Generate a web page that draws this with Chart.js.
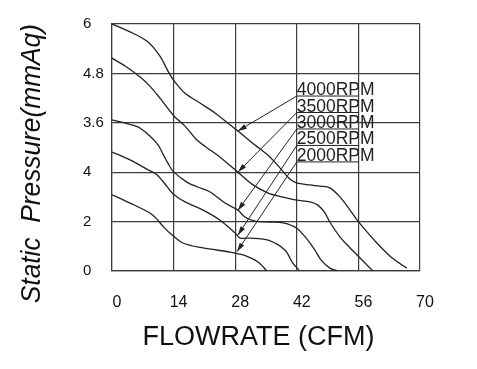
<!DOCTYPE html>
<html>
<head>
<meta charset="utf-8">
<script src="https://cdn.jsdelivr.net/npm/chart.js@4/dist/chart.umd.min.js"></script>
<style>
  body { margin: 0; background: #fff; }
  #wrap { width: 477px; height: 369px; }
</style>
</head>
<body>
<div id="wrap"><canvas id="myCanvas"></canvas></div>
<script>
// axis tick labels (the y labels on the original sheet are printed this way)
const xTickLabels = ['0', '14', '28', '42', '56', '70'];
const yTickLabels = ['0', '2', '4', '3.6', '4.8', '6'];

const rpmLabels = ['4000RPM', '3500RPM', '3000RPM', '2500RPM', '2000RPM'];

// flow (CFM) / static pressure
const flow4000 = [0, 4.1, 8.0, 10.9, 12.7, 14.1, 16.6, 20.0, 23.4, 28.6, 32.5, 35.9, 38.6, 40.5, 42.0, 45.0, 47.3, 49.5, 51.8, 54.1, 55.9, 58.2, 60.2, 63.6, 67.0];
const pres4000 = [6.0, 5.81, 5.58, 5.22, 4.86, 4.62, 4.32, 4.08, 3.84, 3.40, 3.06, 2.77, 2.45, 2.23, 2.14, 2.09, 2.06, 2.02, 1.80, 1.48, 1.21, 0.92, 0.68, 0.32, 0.07];

const flow3500 = [0, 3.0, 6.4, 8.6, 10.9, 12.7, 14.1, 16.6, 19.3, 22.3, 24.5, 28.6, 31.8, 35.5, 38.6, 42.0, 45.0, 46.8, 48.4, 49.5, 51.8, 54.1, 55.7, 59.3];
const pres3500 = [5.17, 4.98, 4.71, 4.49, 4.20, 3.95, 3.76, 3.52, 3.18, 2.94, 2.77, 2.40, 2.11, 1.89, 1.80, 1.72, 1.68, 1.60, 1.41, 1.19, 0.83, 0.56, 0.39, 0];

const flow3000 = [0, 3.0, 5.9, 8.6, 10.5, 11.6, 12.7, 13.9, 17.0, 19.5, 22.3, 25.7, 28.6, 30.2, 32.5, 35.9, 38.9, 42.0, 44.5, 46.1, 47.5, 49.5, 51.4];
const pres3000 = [3.67, 3.59, 3.50, 3.28, 3.06, 2.84, 2.62, 2.42, 2.16, 2.04, 1.92, 1.65, 1.48, 1.31, 1.21, 1.19, 1.17, 1.04, 0.75, 0.51, 0.27, 0.07, 0];

const flow2500 = [0, 4.1, 8.0, 10.2, 12.0, 13.9, 16.6, 20.7, 24.5, 28.0, 29.1, 31.4, 35.5, 39.3, 41.1, 42.7];
const pres2500 = [2.89, 2.70, 2.47, 2.34, 2.12, 1.87, 1.68, 1.48, 1.24, 0.92, 0.80, 0.80, 0.75, 0.51, 0.19, 0];

const flow2000 = [0, 4.1, 8.6, 10.2, 11.8, 13.2, 16.1, 20.7, 26.8, 29.8, 33.2, 35.2];
const pres2000 = [1.85, 1.65, 1.41, 1.26, 1.06, 0.92, 0.68, 0.56, 0.46, 0.39, 0.22, 0];

// callout labels: text sits at flow 42, underline to flow 56, arrow to the curve
const labelFlowStart = 42;
const labelFlowEnd = 56;
const labelPres = [4.25, 3.85, 3.45, 3.05, 2.65];
const arrowFlow = [28.6, 28.6, 28.6, 28.6, 28.4];
const arrowPres = [3.40, 2.40, 1.47, 0.87, 0.47];

const seriesFlow = [flow4000, flow3500, flow3000, flow2500, flow2000];
const seriesPres = [pres4000, pres3500, pres3000, pres2500, pres2000];

const FONT = '"Liberation Sans", Arial, sans-serif';
const INK = '#222';
const GRID = '#3c3c3c';

const datasets = seriesFlow.map((fl, i) => ({
  label: rpmLabels[i],
  data: fl.map((x, j) => ({ x: x, y: seriesPres[i][j] })),
  borderColor: INK,
  borderWidth: 1.3,
  pointRadius: 0,
  fill: false,
  tension: 0.3
}));

const calloutPlugin = {
  id: 'callouts',
  afterDatasetsDraw(chart) {
    const ctx = chart.ctx;
    const xs = chart.scales.x, ys = chart.scales.y;
    ctx.save();
    ctx.strokeStyle = INK;
    ctx.fillStyle = INK;
    ctx.lineWidth = 1;
    ctx.font = '17.5px ' + FONT;
    ctx.textAlign = 'left';
    ctx.textBaseline = 'alphabetic';
    rpmLabels.forEach((txt, i) => {
      const x0 = xs.getPixelForValue(labelFlowStart);
      const x1 = xs.getPixelForValue(labelFlowEnd);
      const y0 = ys.getPixelForValue(labelPres[i]);
      ctx.fillText(txt, x0, y0 - 1);
      ctx.beginPath();
      ctx.moveTo(x0, y0);
      ctx.lineTo(x1, y0);
      ctx.stroke();
      // arrow
      const tx = xs.getPixelForValue(arrowFlow[i]);
      const ty = ys.getPixelForValue(arrowPres[i]);
      ctx.beginPath();
      ctx.moveTo(x0, y0);
      ctx.lineTo(tx, ty);
      ctx.stroke();
      const ang = Math.atan2(ty - y0, tx - x0);
      const len = 9, half = 2.6;
      ctx.beginPath();
      ctx.moveTo(tx, ty);
      ctx.lineTo(tx - len * Math.cos(ang) + half * Math.sin(ang), ty - len * Math.sin(ang) - half * Math.cos(ang));
      ctx.lineTo(tx - len * Math.cos(ang) - half * Math.sin(ang), ty - len * Math.sin(ang) + half * Math.cos(ang));
      ctx.closePath();
      ctx.fill();
    });
    ctx.restore();
  }
};

const ctx = document.getElementById('myCanvas').getContext('2d');
new Chart(ctx, {
  type: 'line',
  data: { datasets: datasets },
  plugins: [calloutPlugin],
  options: {
    responsive: true,
    maintainAspectRatio: false,
    animation: false,
    layout: { padding: { top: 24, right: 57, left: 0, bottom: 0 } },
    plugins: {
      legend: { display: false },
      tooltip: { enabled: false },
      title: {
        display: true,
        position: 'left',
        fullSize: true,
        text: '         Static  Pressure(mmAq)',
        color: '#111',
        font: { family: FONT, size: 27, style: 'italic', weight: 'normal', lineHeight: 1.2 },
        padding: { top: 16, bottom: 34.6 }
      }
    },
    scales: {
      x: {
        type: 'linear',
        min: 0, max: 70,
        ticks: {
          stepSize: 14,
          padding: 22,
          labelOffset: 5,
          color: '#111',
          font: { family: FONT, size: 16 },
          callback: (v, i) => xTickLabels[i]
        },
        grid: { color: GRID, lineWidth: 1.2, drawTicks: false },
        border: { color: GRID, width: 1.2 },
        title: {
          display: true,
          text: 'FLOWRATE (CFM)  ',
          color: '#111',
          font: { family: FONT, size: 27, lineHeight: 1.2 },
          padding: { top: 0, bottom: 15 }
        },
        afterFit: (scale) => { scale.height = 98; }
      },
      y: {
        type: 'linear',
        min: 0, max: 6,
        ticks: {
          stepSize: 1.2,
          crossAlign: 'far',
          color: '#111',
          font: { family: FONT, size: 15 },
          callback: (v, i) => yTickLabels[i]
        },
        grid: { color: GRID, lineWidth: 1.2, drawTicks: false },
        border: { color: GRID, width: 1.2 },
        afterFit: (scale) => { scale.width = 29; }
      }
    }
  }
});
</script>
</body>
</html>
